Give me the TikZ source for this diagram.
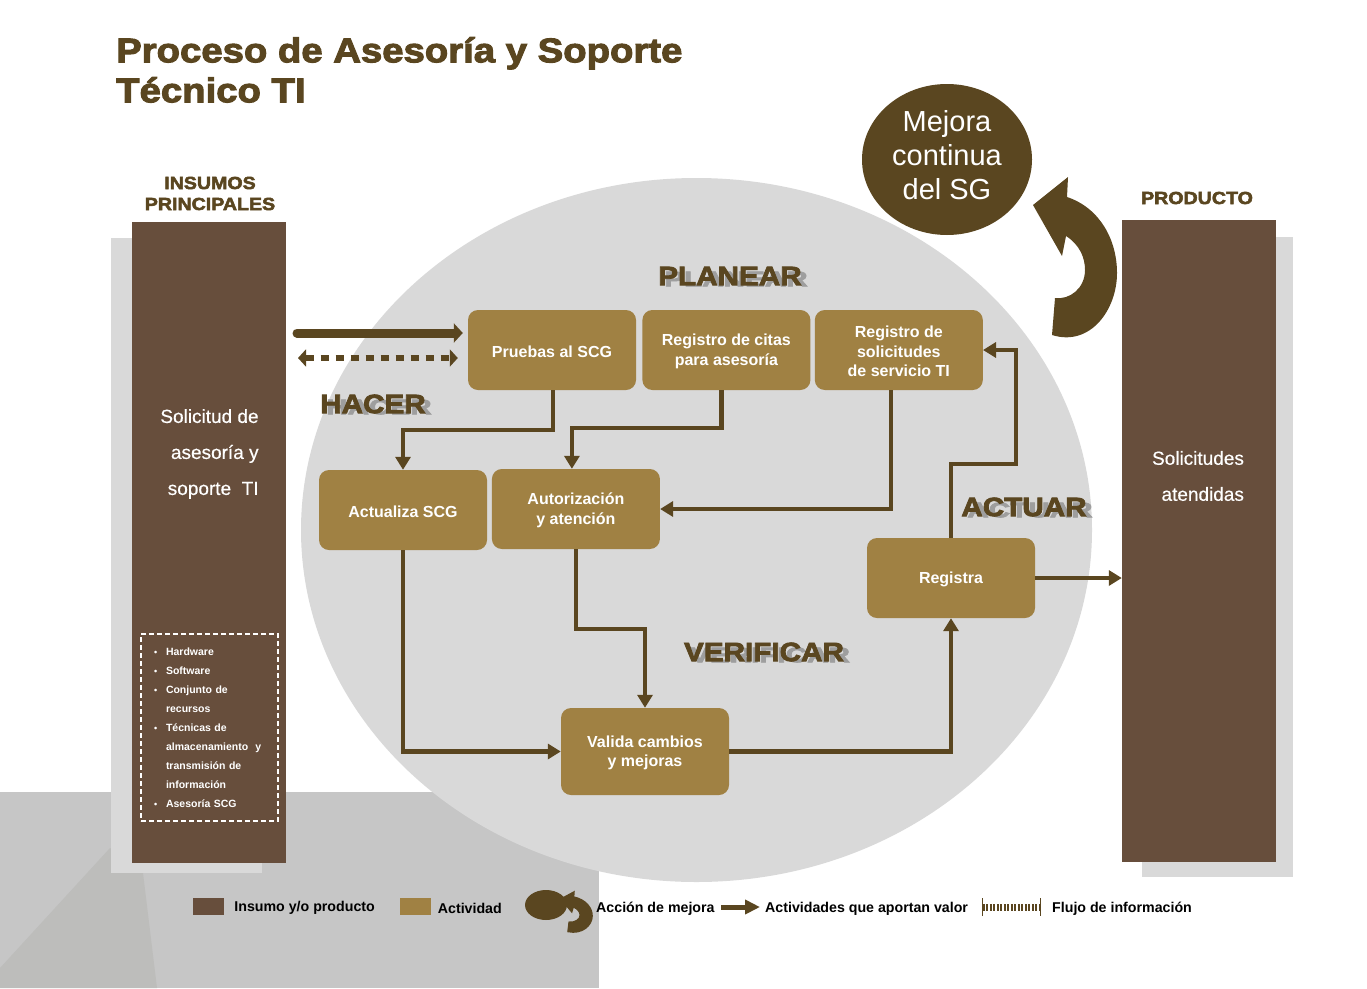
\documentclass[tikz,border=0pt]{standalone}
\usepackage{fontspec}
\setmainfont{Liberation Sans}
\newfontfamily\blackfont[FakeBold=3,FakeStretch=1.12]{Liberation Sans Bold}
\newfontfamily\medfont[FakeBold=0.4]{Liberation Sans}
\usetikzlibrary{shapes, arrows.meta, positioning}
\definecolor{cafe}{HTML}{674E3C}
\definecolor{ocre}{HTML}{A08143}
\definecolor{oliva}{HTML}{5A4620}
\definecolor{gris}{HTML}{D9D9D9}
\definecolor{grisfondo}{HTML}{C6C6C6}
\definecolor{grisoscuro}{HTML}{BDBDBB}
\newcommand{\itemlista}{\makebox[12pt][l]{\fontsize{9}{9}\selectfont •}}
\newcommand{\sigue}{\hspace*{12pt}}
\newcommand{\bajar}{\rule{0pt}{14.5pt}}

\begin{document}
\begin{tikzpicture}[
    x=1pt, y=-1pt,
    node distance=6pt,
    actividad/.style={rectangle, fill=ocre, rounded corners=10pt, minimum width=168pt, minimum height=80pt, inner sep=0pt, align=center, text=white, font=\fontsize{16}{19.5}\selectfont\bfseries},
    columna/.style={rectangle, fill=cafe, inner sep=0pt, minimum width=154pt},
    textocolumna/.style={align=right, text=white, inner sep=0pt, font=\fontsize{19}{36}\selectfont\medfont},
    etapa/.style={font=\fontsize{26.5}{26.5}\selectfont\blackfont, text=oliva, inner sep=0pt},
    etapasombra/.style={font=\fontsize{26.5}{26.5}\selectfont\blackfont, text=black!38, inner sep=0pt, yscale=0.8},
    encabezado/.style={font=\fontsize{17.5}{21}\selectfont\blackfont, text=oliva, align=center, inner sep=0pt},
    leyenda/.style={font=\fontsize{14.2}{16}\selectfont\bfseries, text=black, anchor=west, inner sep=0pt},
    muestra/.style={rectangle, minimum width=31pt, minimum height=17pt, inner sep=0pt},
    arrow/.style={-{Triangle[width=15pt,length=13pt]}, line width=4.5pt, draw=oliva},
    mejora/.pic={\path[fill=oliva, pic actions] (35,0) -- (0,28) -- (29,79) -- (33,59) .. controls (47,68) and (52,81) .. (52,93) .. controls (52,111) and (37,123) .. (22,121) -- (19,158) .. controls (57,170) and (84,133) .. (84,96) .. controls (84,63) and (67,31) .. (34,20) -- cycle;}
]
\useasboundingbox (0,0) rectangle (1367,988);

% Fondo
\fill[grisfondo] (0,792) rectangle (599,988);
\fill[grisoscuro] (0,968) -- (110,848) -- (143,873) -- (157,988) -- (0,988) -- cycle;
\node[ellipse, fill=gris, inner sep=0pt, minimum width=791pt, minimum height=704pt] (circulo) at (696.5,530) {};
\fill[gris] (111,238) rectangle (262,873);
\fill[gris] (1142,237) rectangle (1293,877);

% Titulo
\node[anchor=north west, align=left, inner sep=0pt, text=oliva, font=\fontsize{34.2}{40}\selectfont\blackfont] (titulo) at (116,37) {Proceso de Asesoría y Soporte\\Técnico TI};

% Insumos y producto
\node[columna, minimum height=641pt] (insumos) at (209,542.5) {};
\node[columna, minimum height=642pt] (producto) at (1199,541) {};
\node[encabezado] (tinsumos) at (210,193.5) {INSUMOS\\PRINCIPALES};
\node[encabezado] (tproducto) at (1197,198) {PRODUCTO};
\node[textocolumna] (solicitud) at (209.5,454) {Solicitud de\\asesoría y\\soporte~~TI};
\node[textocolumna] (atendidas) at (1198,476) {Solicitudes\\atendidas};
\node[draw=white, dash pattern=on 5pt off 3pt, line width=1.3pt, text=white, align=left, inner xsep=13pt, inner ysep=0pt, text width=111pt, minimum height=187pt, font=\fontsize{10.5}{19}\selectfont\bfseries] (recursos) at (209.5,727.5) {\itemlista Hardware\\\itemlista Software\\\itemlista Conjunto de\\\sigue recursos\\\itemlista Técnicas de\\\sigue almacenamiento~~y\\\sigue transmisión de\\\sigue información\\\itemlista Asesoría SCG};

% Actividades
\node[actividad] (pruebas) at (552,350) {\bajar Pruebas al SCG};
\node[actividad, right=6pt of pruebas] (citas) {\bajar Registro de citas\\para asesoría};
\node[actividad, right=4pt of citas] (solicitudes) {\bajar Registro de\\solicitudes\\de servicio TI};
\node[actividad] (actualiza) at (403,510) {\bajar Actualiza SCG};
\node[actividad, right=4.5pt of actualiza, yshift=1pt] (autorizacion) {\bajar Autorización\\y atención};
\node[actividad] (registra) at (951,578) {\bajar Registra};
\node[actividad, minimum height=87pt] (valida) at (645,751.5) {\bajar Valida cambios\\y mejoras};

% Etapas
\node[etapasombra] (splanear) at (736,279) {PLANEAR};
\node[etapa] (planear) at (730,276) {PLANEAR};
\node[etapasombra] (shacer) at (379,407) {HACER};
\node[etapa] (hacer) at (373,404) {HACER};
\node[etapasombra] (sactuar) at (1030,510) {ACTUAR};
\node[etapa] (actuar) at (1024,507) {ACTUAR};
\node[etapasombra] (sverificar) at (770,655) {VERIFICAR};
\node[etapa] (verificar) at (764,652) {VERIFICAR};

% Mejora continua
\node[ellipse, fill=oliva, inner sep=0pt, minimum width=170pt, minimum height=151pt] (mejoracontinua) at (947,159.5) {};
\node[text=white, align=center, inner sep=0pt, yshift=4pt, font=\fontsize{29}{34}\selectfont] (tmejora) at (mejoracontinua.center) {Mejora\\continua\\del SG};
\pic at (1033,177) {mejora};

% Flechas
\draw[arrow] ([xshift=1pt]pruebas.south) -- ++(0,40) -| (actualiza.north);
\draw[arrow] ([xshift=-5pt]citas.south) -- ++(0,38) -| ([xshift=-4pt]autorizacion.north);
\draw[arrow] ([xshift=-8pt]solicitudes.south) |- (autorizacion.east);
\draw[arrow] (autorizacion.south) -- ++(0,80) -| (valida.north);
\draw[arrow] (actualiza.south) |- (valida.west);
\draw[arrow] (valida.east) -| (registra.south);
\draw[arrow] (registra.north) -- ++(0,-74) -- ++(65,0) |- (solicitudes.east);
\draw[arrow] (registra.east) -- (registra.east -| producto.west);

% Flujo de entrada
\coordinate (entrada) at (297,333);
\coordinate (entradainfo) at (298,358);
\draw[-{Triangle[width=19pt,length=9pt]}, line width=9pt, line cap=round, draw=oliva] (entrada) -- ([xshift=-5pt,yshift=17pt]pruebas.west);
\draw[{Triangle[width=17pt,length=8pt]}-{Triangle[width=17pt,length=8pt]}, line width=6pt, draw=oliva, dash pattern=on 8pt off 7pt] (entradainfo) -- ([xshift=-10pt,yshift=-8pt]pruebas.west);

% Leyenda
\node[muestra, fill=cafe] (minsumo) at (208.5,906.5) {};
\node[leyenda, right=10pt of minsumo, yshift=-1pt] (linsumo) {Insumo y/o producto};
\node[muestra, fill=ocre] (mactividad) at (415,906) {};
\node[leyenda, right=7pt of mactividad, yshift=-2.5pt] (lactividad) {Actividad};
\node[ellipse, fill=oliva, inner sep=0pt, minimum width=42pt, minimum height=30pt] (mmejora) at (546,905) {};
\pic[xscale=0.37, yscale=0.25, draw=oliva, line width=1.5pt] at (561,892) {mejora};
\node[leyenda] (lmejora) at (596,908.5) {Acción de mejora};
\coordinate (mvalor) at (721,907);
\node[leyenda] (lvalor) at (765,908.5) {Actividades que aportan valor};
\draw[-{Triangle[width=14pt,length=15pt]}, line width=5pt, draw=oliva] (mvalor) -- ([xshift=-5pt,yshift=1.5pt]lvalor.west);
\coordinate (mflujo) at (982,907);
\node[leyenda] (lflujo) at (1052,908.5) {Flujo de información};
\draw[{Bar[width=18pt,length=1pt,line width=1pt]}-{Bar[width=18pt,length=1pt,line width=1pt]}, line width=7pt, draw=oliva, dash pattern=on 2pt off 1.5pt] (mflujo) -- ([xshift=-11pt,yshift=1.5pt]lflujo.west);

\end{tikzpicture}
\end{document}
